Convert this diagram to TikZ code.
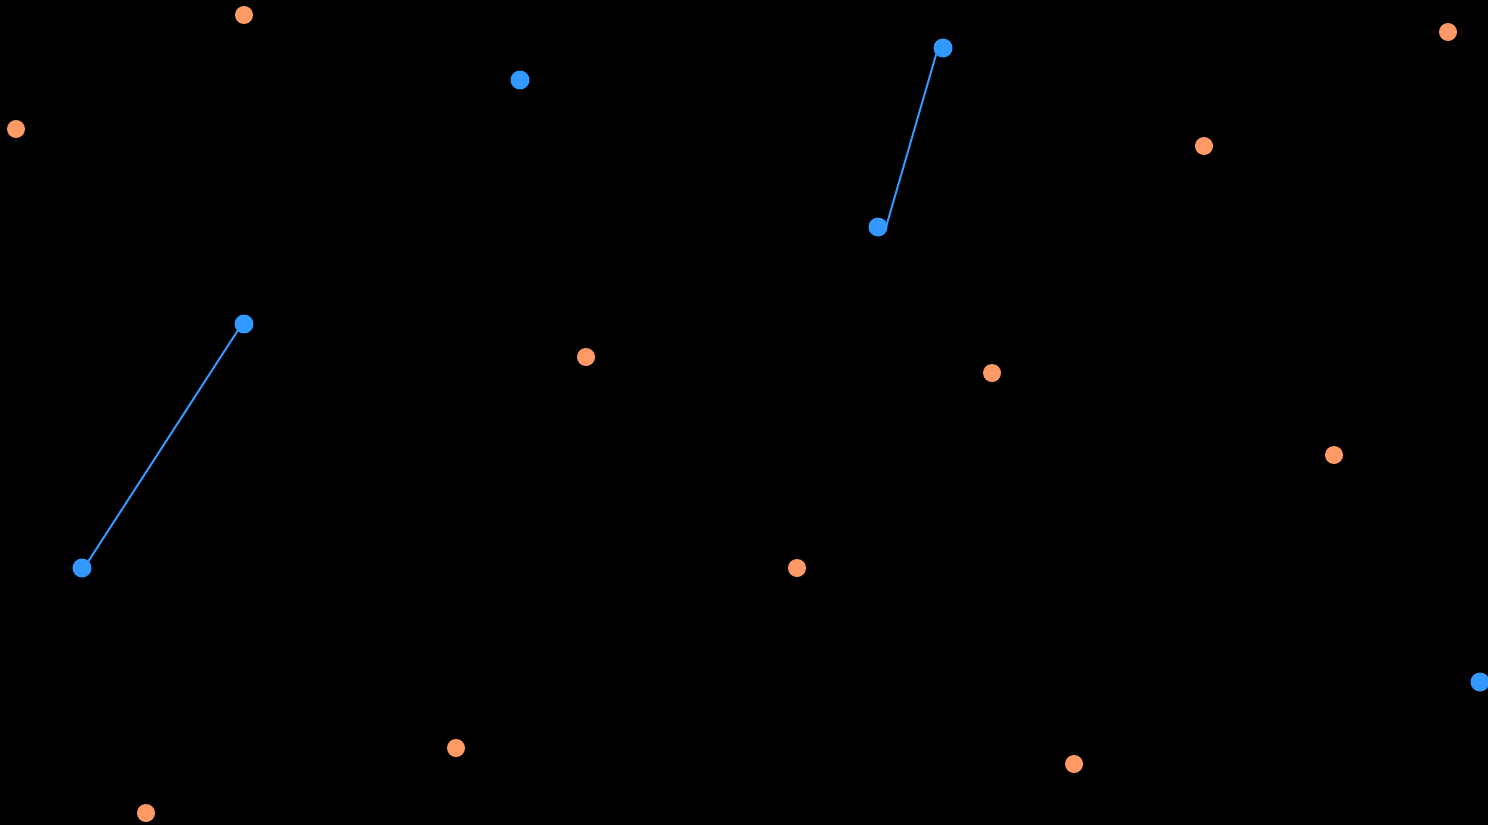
\documentclass[tikz,border=0pt]{standalone}
\usepackage{tikz}
\definecolor{dotblue}{HTML}{3399FF}
\definecolor{dotorange}{HTML}{FF9966}

\begin{document}
\begin{tikzpicture}[x=0.02cm, y=-0.02cm,
    peach/.style={circle, fill=dotorange, inner sep=0pt, minimum size=0.36cm},
    sky/.style={circle, fill=dotblue, inner sep=0pt, minimum size=0.38cm},
    link/.style={draw=dotblue, line width=0.04cm}]
          \fill[black] (0,0) rectangle (1488,825);
          \useasboundingbox (0,0) rectangle (1488,825);
          \clip (0,0) rectangle (1488,825);
          % link ends (under the blue dots)
          \coordinate (l1a) at (938,48);
          \coordinate (l1b) at (886,227);
          \coordinate (l2a) at (242,324);
          \coordinate (l2b) at (84,568);
          \draw[link] (l1a) -- (l1b);
          \draw[link] (l2a) -- (l2b);
          % orange dots
          \node[peach] (o1) at (244,15) {};
          \node[peach] (o2) at (16,129) {};
          \node[peach] (o3) at (1448,32) {};
          \node[peach] (o4) at (1204,146) {};
          \node[peach] (o5) at (586,357) {};
          \node[peach] (o6) at (992,373) {};
          \node[peach] (o7) at (1334,455) {};
          \node[peach] (o8) at (797,568) {};
          \node[peach] (o9) at (456,748) {};
          \node[peach] (o10) at (1074,764) {};
          \node[peach] (o11) at (146,813) {};
          % blue dots
          \node[sky] (b1) at (520,80) {};
          \node[sky] (b2) at (943,48) {};
          \node[sky] (b3) at (878,227) {};
          \node[sky] (b4) at (244,324) {};
          \node[sky] (b5) at (82,568) {};
          \node[sky] (b6) at (1480,682) {};
        \end{tikzpicture}
\end{document}
